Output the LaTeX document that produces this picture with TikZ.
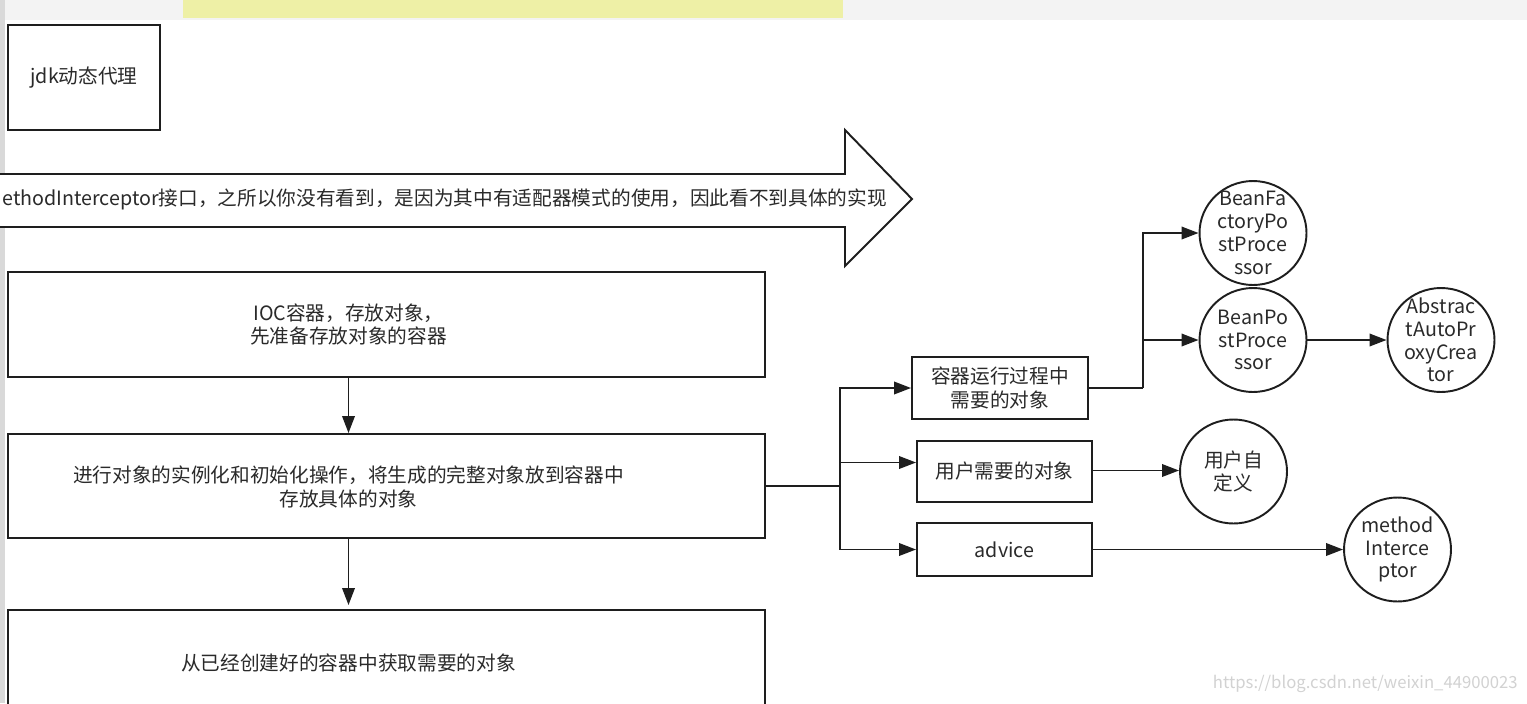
\documentclass[tikz,border=0pt]{standalone}
\usepackage{fontspec}
\setmainfont{Noto Sans CJK SC}
\usetikzlibrary{positioning,arrows.meta,calc,shapes.geometric}
\definecolor{InkBlack}{HTML}{1E1E1E}
\definecolor{TextGray}{HTML}{2A2A2A}
\definecolor{BarYellow}{HTML}{EEF0A6}
\definecolor{StripGray}{HTML}{D9D9D9}
\definecolor{BandGray}{HTML}{F3F3F3}
\definecolor{MarkGray}{HTML}{D2D2D2}
\tikzset{
  every node/.style = {font=\fontsize{11.2}{13.5}\selectfont, text=TextGray},
  stepbox/.style    = {rectangle, draw=InkBlack, line width=1.1pt, fill=white,
                       align=center, inner sep=0pt},
  bigbox/.style     = {stepbox, minimum width=15.14cm, minimum height=2.1cm},
  smallbox/.style   = {stepbox, minimum width=3.5cm, minimum height=1.22cm},
  boxtext/.style    = {align=center, inner sep=0pt},
  objnode/.style    = {ellipse, draw=InkBlack, line width=1.1pt, fill=white,
                       minimum width=2.14cm, minimum height=2.08cm, inner sep=0pt},
  objtext/.style    = {align=center, inner sep=0pt,
                       font=\fontsize{11.2}{13}\selectfont},
  flow/.style       = {-{Triangle[length=3.4mm, width=2.5mm]}, line width=1.1pt,
                       draw=InkBlack},
  link/.style       = {-, line width=1.1pt, draw=InkBlack},
  hintarrow/.style  = {draw=InkBlack, line width=1.1pt, fill=white,
                       line join=miter},
}

\begin{document}
\begin{tikzpicture}[x=0.02cm, y=-0.02cm]

% =========================================================================
% Page frame (screen capture edges)
% =========================================================================
\clip (0,0) rectangle (1527,703);
\fill[white]     (0,0) rectangle (1527,703);
\fill[BandGray]  (0,0) rectangle (1527,20);
\fill[BarYellow] (183,0) rectangle (843,18);
\fill[StripGray] (0,0) rectangle (5,703);

% =========================================================================
% Top: jdk box and the hint arrow
% =========================================================================
\node[stepbox, minimum width=3.04cm, minimum height=2.1cm] (jdk) at (84,77.5)
  {jdk动态代理};

\draw[hintarrow]
  (-5,174) -- (845,174) -- (845,130) -- (912,199)
  -- (845,266) -- (845,227) -- (-5,227);
\node[anchor=west, inner sep=0pt] (hint) at (2,199)
  {ethodInterceptor接口，之所以你没有看到，是因为其中有适配器模式的使用，因此看不到具体的实现};

% =========================================================================
% Left column: container steps (text sits left of the box centre)
% =========================================================================
\node[bigbox] (ioc)  at (386.5,324.5) {};
\node[boxtext] (iocT) at ($(ioc.center)+(-38,0)$)
  {IOC容器，存放对象，\\先准备存放对象的容器};
\node[bigbox, minimum height=2.08cm] (inst) at (386.5,486) {};
\node[boxtext] (instT) at ($(inst.center)+(-38,1)$)
  {进行对象的实例化和初始化操作，将生成的完整对象放到容器中\\存放具体的对象};
\node[bigbox, minimum height=2.12cm] (fetch) at (386.5,663) {};
\node[boxtext] (fetchT) at ($(fetch.center)+(-38,0)$)
  {从已经创建好的容器中获取需要的对象};

\draw[flow] ($(ioc.south)+(-38,0)$)  -- ($(inst.north)+(-38,0)$);
\draw[flow] ($(inst.south)+(-38,0)$) -- ($(fetch.north)+(-38,-4)$);

% =========================================================================
% Right: kinds of objects
% =========================================================================
\node[smallbox, minimum width=3.52cm, minimum height=1.24cm] (run) at (1000,388)
  {容器运行过程中\\需要的对象};
\node[smallbox] (user) at (1004.5,471.5) {用户需要的对象};
\node[smallbox, minimum height=1.06cm] (adv) at (1004.5,549.5) {advice};

\coordinate (split)  at (840,486);
\coordinate (split2) at (1143,388);

\draw[link] (inst.east) -- (split);
\draw[flow] (split) |- (run.west);
\draw[flow] (split) |- ($(user.west)+(0,-9)$);
\draw[flow] (split) |- (adv.west);

% --- objects (ellipses) ---------------------------------------------------
\node[objnode] (bfpp) at (1253,233) {};
\node[objtext] (bfppT) at (bfpp) {BeanFa\\ctoryPo\\stProce\\ssor};
\node[objnode] (bpp) at (1253,340) {};
\node[objtext] (bppT) at (bpp) {BeanPo\\stProce\\ssor};
\node[objnode] (aapc) at (1441,340) {};
\node[objtext] (aapcT) at (aapc) {Abstrac\\tAutoPr\\oxyCrea\\tor};
\node[objnode] (self) at (1233.5,471.5) {};
\node[objtext] (selfT) at (self) {用户自\\定义};
\node[objnode] (mi) at (1397.5,549.5) {};
\node[objtext] (miT) at (mi) {method\\Interce\\ptor};

\draw[link] (run.east) -- (split2);
\draw[flow] (split2) |- (bfpp.west);
\draw[flow] (split2) |- (bpp.west);
\draw[flow] (bpp) -- (aapc);
\draw[flow] ($(user.east)+(0,-1)$) -- ($(self.west)+(0,-1)$);
\draw[flow] (adv) -- (mi);

% =========================================================================
% Watermark
% =========================================================================
\node[anchor=east, text=MarkGray, font=\fontsize{9.5}{11}\selectfont,
      inner sep=0pt] (mark) at (1518,684) {https://blog.csdn.net/weixin\_44900023};

\end{tikzpicture}
\end{document}
